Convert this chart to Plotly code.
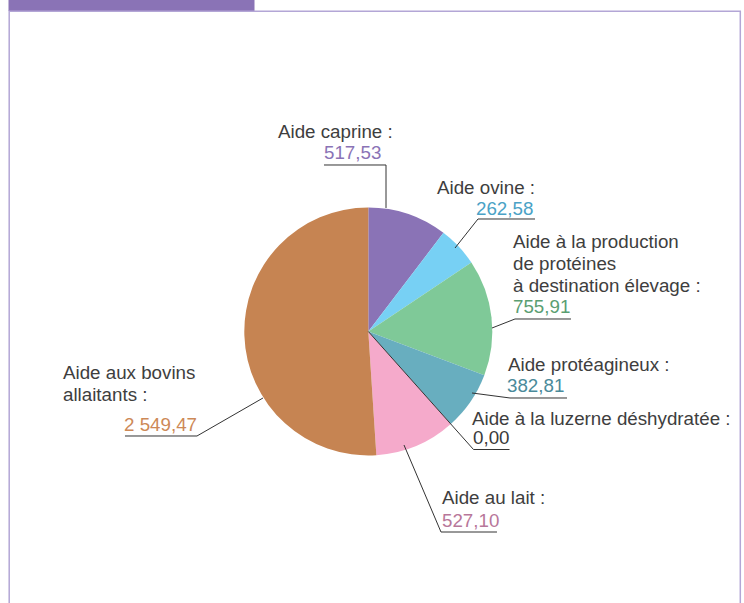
import math
import plotly.graph_objects as go

# ---------------- data ----------------
categories = [
    "Aide caprine",
    "Aide ovine",
    "Aide à la production de protéines à destination élevage",
    "Aide protéagineux",
    "Aide à la luzerne déshydratée",
    "Aide au lait",
    "Aide aux bovins allaitants",
]
values = [517.53, 262.58, 755.91, 382.81, 0.00, 527.10, 2549.47]
value_labels = ["517,53", "262,58", "755,91", "382,81", "0,00", "527,10", "2 549,47"]
label_lines = [
    ["Aide caprine :"],
    ["Aide ovine :"],
    ["Aide à la production", "de protéines", "à destination élevage :"],
    ["Aide protéagineux :"],
    ["Aide à la luzerne déshydratée :"],
    ["Aide au lait :"],
    ["Aide aux bovins", "allaitants :"],
]
slice_colors = ["#8a73b6", "#77d0f4", "#7fc998", "#68aebf", "#9e9e9e", "#f5aacb", "#c68452"]
value_colors = ["#8a73b6", "#4aa2c6", "#5a9e72", "#4a8a9a", "#3a3a3a", "#b8779a", "#cd8957"]

# ---------------- layout (pixels) ----------------
W, H = 744, 603
CX, CY, R = 368.3, 331.5, 124.0
FONT = "Liberation Sans, Arial, sans-serif"
FS = 18.75
TEXT_COLOR = "#3e3e3e"
LINE_COLOR = "#333333"


def px(x):
    return x / W


def py(y):
    return 1 - y / H


# label placement: (x_left_label, first label baseline, line gap, x_left_value, value baseline)
label_pos = [
    (278, 138, 22, 324, 159),
    (437, 194, 22, 476, 215),
    (513, 248, 22, 513, 313),
    (508, 371, 22, 507, 392),
    (472, 425, 22, 473, 444),
    (442, 504, 22, 442, 527),
    (63, 379, 22, 124, 431),
]
# leader polylines (start, elbow, underline end)
leaders = [
    [(386, 208), (386, 165), (324, 165)],
    [(455, 248), (478, 219), (535, 219)],
    [(492, 328), (515, 319), (571, 319)],
    [(472, 393), (510, 398), (567, 398)],
    None,  # computed from data (zero slice boundary)
    [(404, 445), (441, 532), (497, 532)],
    [(263, 398), (197, 436), (125, 436)],
]

fig = go.Figure()
fig.add_trace(
    go.Pie(
        labels=categories,
        values=values,
        sort=False,
        direction="clockwise",
        rotation=0,
        marker=dict(colors=slice_colors, line=dict(width=0)),
        textinfo="none",
        hoverinfo="skip",
        showlegend=False,
        domain=dict(x=[px(CX - R), px(CX + R)], y=[py(CY + R), py(CY - R)]),
    )
)

shapes = []
# frame: purple tab + light border
shapes.append(dict(type="rect", xref="paper", yref="paper",
                   x0=px(8.5), x1=px(254.5), y0=py(11), y1=py(0),
                   fillcolor="#8a73b6", line=dict(width=0), layer="below"))
shapes.append(dict(type="rect", xref="paper", yref="paper",
                   x0=px(9.2), x1=px(740.3), y0=py(620), y1=py(11.3),
                   fillcolor="rgba(0,0,0,0)", line=dict(color="#b3a6d6", width=1.5)))

# zero-value slice leader: along its boundary angle, from centre outwards
total = sum(values)
cum = sum(values[:4]) / total
ang = 2 * math.pi * cum
ex, ey = CX + 1.275 * R * math.sin(ang), CY - 1.275 * R * math.cos(ang)
leaders[4] = [(CX, CY), (ex, ey), (ex + 36, ey)]

for pts in leaders:
    path = "M " + " L ".join(f"{px(x):.5f},{py(y):.5f}" for x, y in pts)
    shapes.append(dict(type="path", xref="paper", yref="paper", path=path,
                       line=dict(color=LINE_COLOR, width=1)))

annotations = []
ASC = 0.3465 * FS  # baseline -> vertical centre of text box
for i, lines in enumerate(label_lines):
    lx, lb, gap, vx, vb = label_pos[i]
    for k, t in enumerate(lines):
        annotations.append(dict(
            text=t, x=px(lx), y=py(lb + k * gap - ASC), xref="paper", yref="paper",
            xanchor="left", yanchor="middle", showarrow=False,
            borderpad=0, borderwidth=0,
            font=dict(family=FONT, size=FS, color=TEXT_COLOR)))
    annotations.append(dict(
        text=value_labels[i], x=px(vx), y=py(vb - ASC), xref="paper", yref="paper",
        xanchor="left", yanchor="middle", showarrow=False,
        borderpad=0, borderwidth=0,
        font=dict(family=FONT, size=FS, color=value_colors[i])))

fig.update_layout(
    width=W, height=H,
    margin=dict(l=0, r=0, t=0, b=0),
    paper_bgcolor="white", plot_bgcolor="white",
    shapes=shapes, annotations=annotations,
)
fig.write_html(
    "out.html",
    config={"displayModeBar": False},
    post_script="document.body.style.margin='0';document.body.style.overflow='hidden';",
)
